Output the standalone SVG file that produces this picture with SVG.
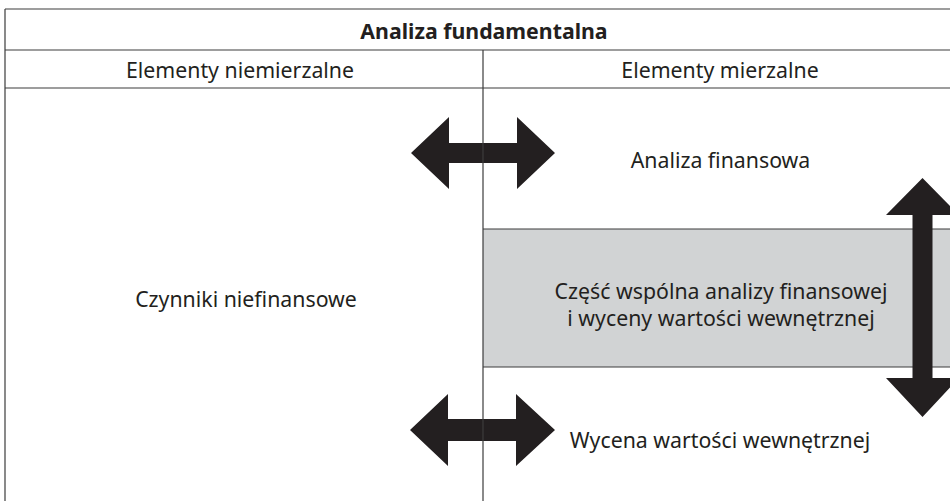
<svg xmlns="http://www.w3.org/2000/svg" width="950" height="501" viewBox="0 0 950 501">
  <style>
    .rule { stroke: #3c3c3c; stroke-width: 1.2; fill: none; }
    .txt { font-family: "Source Sans Pro", "Noto Sans", "Open Sans", sans-serif; font-size: 21.3px; fill: #231f20; text-anchor: middle; }
    .title { font-weight: bold; }
    .arrow { fill: #231f20; }
  </style>
  <rect width="950" height="501" fill="#ffffff"/>

  <!-- shared area of the two analyses -->
  <g id="shared">
    <rect x="483" y="229" width="480" height="138" fill="#d1d3d4"/>
    <text class="txt" x="721" y="299">Część wspólna analizy finansowej</text>
    <text class="txt" x="721" y="326">i wyceny wartości wewnętrznej</text>
  </g>

  <!-- table frame -->
  <g id="frame">
    <path class="rule" d="M5 9H960M5 9V501M5 50H960M5 88H960M483 229H960M483 367H960"/>
  </g>

  <g id="title">
    <text class="txt title" x="484" y="39">Analiza fundamentalna</text>
  </g>
  <g id="col-left-head">
    <text class="txt" x="240" y="78">Elementy niemierzalne</text>
  </g>
  <g id="col-right-head">
    <text class="txt" x="720" y="78">Elementy mierzalne</text>
  </g>
  <g id="financial">
    <text class="txt" x="720.5" y="168">Analiza finansowa</text>
  </g>
  <g id="nonfinancial">
    <text class="txt" x="246" y="307">Czynniki niefinansowe</text>
  </g>
  <g id="valuation">
    <text class="txt" x="720" y="448">Wycena wartości wewnętrznej</text>
  </g>

  <!-- double-headed arrows -->
  <g id="connectors">
    <path class="arrow" d="M411 153L449 117V143H517V117L555 153L517 189V163H449V189Z"/>
    <path class="arrow" d="M410 430L448 394V419H516V394L555 430L516 466V441H448V466Z"/>
    <path class="arrow" d="M922.5 178L959 215H932.5V378H959L922.5 417L886 378H912.5V215H886Z"/>
  </g>

  <!-- column divider, drawn over the arrows -->
  <path class="rule" d="M483 50V501"/>
</svg>
